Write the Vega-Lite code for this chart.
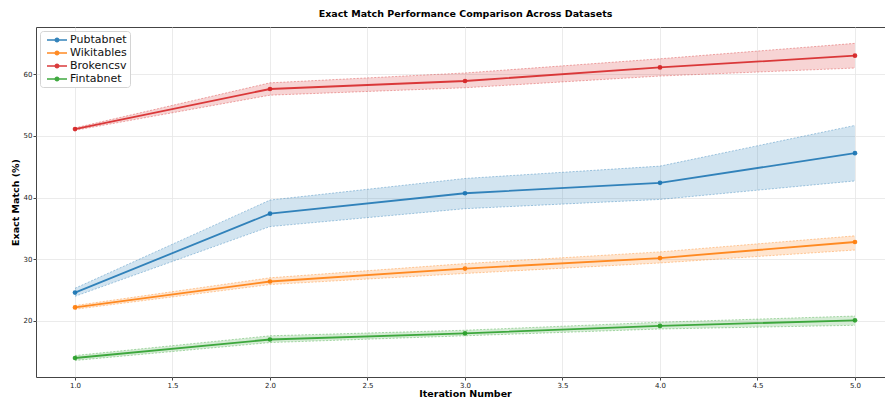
{
  "$schema": "https://vega.github.io/schema/vega-lite/v6.json",
  "autosize": "none",
  "width": 849,
  "height": 350,
  "padding": {"left": 36, "top": 27, "right": 0, "bottom": 26},
  "background": "white",
  "title": {
    "text": "Exact Match Performance Comparison Across Datasets",
    "font": "DejaVu Sans",
    "fontSize": 9.5,
    "fontWeight": "bold",
    "color": "#000",
    "anchor": "middle",
    "dx": 5,
    "offset": 9
  },
  "config": {
    "view": {"stroke": "#444", "strokeWidth": 1},
    "axis": {
      "domain": false,
      "grid": true,
      "gridColor": "#e6e6e6",
      "gridWidth": 0.8,
      "tickColor": "#444",
      "tickSize": 3,
      "labelFont": "DejaVu Sans",
      "labelFontSize": 7,
      "labelColor": "#222",
      "titleFont": "DejaVu Sans",
      "titleFontSize": 9.5,
      "titleFontWeight": "bold",
      "titleColor": "#000"
    }
  },
  "data": {
    "values": [
      {"dataset": "Pubtabnet", "iteration": 1, "mean": 24.6, "lower": 24.0, "upper": 25.3},
      {"dataset": "Pubtabnet", "iteration": 2, "mean": 37.4, "lower": 35.3, "upper": 39.6},
      {"dataset": "Pubtabnet", "iteration": 3, "mean": 40.7, "lower": 38.2, "upper": 43.1},
      {"dataset": "Pubtabnet", "iteration": 4, "mean": 42.4, "lower": 39.7, "upper": 45.1},
      {"dataset": "Pubtabnet", "iteration": 5, "mean": 47.2, "lower": 42.7, "upper": 51.7},
      {"dataset": "Wikitables", "iteration": 1, "mean": 22.2, "lower": 21.9, "upper": 22.5},
      {"dataset": "Wikitables", "iteration": 2, "mean": 26.4, "lower": 25.9, "upper": 27.0},
      {"dataset": "Wikitables", "iteration": 3, "mean": 28.5, "lower": 27.7, "upper": 29.3},
      {"dataset": "Wikitables", "iteration": 4, "mean": 30.2, "lower": 29.4, "upper": 31.2},
      {"dataset": "Wikitables", "iteration": 5, "mean": 32.8, "lower": 31.5, "upper": 33.8},
      {"dataset": "Brokencsv", "iteration": 1, "mean": 51.1, "lower": 50.9, "upper": 51.3},
      {"dataset": "Brokencsv", "iteration": 2, "mean": 57.6, "lower": 56.6, "upper": 58.6},
      {"dataset": "Brokencsv", "iteration": 3, "mean": 58.9, "lower": 57.8, "upper": 60.2},
      {"dataset": "Brokencsv", "iteration": 4, "mean": 61.1, "lower": 59.7, "upper": 62.5},
      {"dataset": "Brokencsv", "iteration": 5, "mean": 63.0, "lower": 61.0, "upper": 65.0},
      {"dataset": "Fintabnet", "iteration": 1, "mean": 14.0, "lower": 13.6, "upper": 14.4},
      {"dataset": "Fintabnet", "iteration": 2, "mean": 17.0, "lower": 16.5, "upper": 17.6},
      {"dataset": "Fintabnet", "iteration": 3, "mean": 18.0, "lower": 17.6, "upper": 18.5},
      {"dataset": "Fintabnet", "iteration": 4, "mean": 19.2, "lower": 18.7, "upper": 19.8},
      {"dataset": "Fintabnet", "iteration": 5, "mean": 20.1, "lower": 19.3, "upper": 20.8}
    ]
  },
  "encoding": {
    "x": {
      "field": "iteration",
      "type": "quantitative",
      "scale": {"domain": [0.8, 5.154], "nice": false, "zero": false},
      "axis": {
        "values": [1, 1.5, 2, 2.5, 3, 3.5, 4, 4.5, 5],
        "format": ".1f",
        "title": "Iteration Number",
        "titleX": 429,
        "titleY": 19.5,
        "titleBaseline": "alphabetic",
        "labelPadding": 1
      }
    },
    "color": {
      "field": "dataset",
      "type": "nominal",
      "scale": {
        "domain": ["Pubtabnet", "Wikitables", "Brokencsv", "Fintabnet"],
        "range": ["#1f77b4", "#ff7f0e", "#d62728", "#2ca02c"]
      },
      "legend": {
        "title": null,
        "orient": "top-left",
        "offset": 4,
        "padding": 3,
        "fillColor": "white",
        "strokeColor": "#d4d4d4",
        "cornerRadius": 3,
        "labelFont": "DejaVu Sans",
        "labelFontSize": 11,
        "labelColor": "#111",
        "labelOffset": 7,
        "rowPadding": 2,
        "symbolOffset": 8,
        "symbolType": "M-2,0H2M0.34,0A0.34,0.34,0,1,1,-0.34,0A0.34,0.34,0,1,1,0.34,0Z",
        "symbolSize": 100,
        "symbolStrokeWidth": 1.6,
        "symbolOpacity": 0.9,
        "encode": {
          "symbols": {
            "update": {
              "fill": {"scale": "color", "field": "value"},
              "stroke": {"scale": "color", "field": "value"},
              "opacity": {"value": 0.9}
            }
          }
        }
      }
    }
  },
  "layer": [
    {
      "mark": {"type": "area", "opacity": 0.2},
      "encoding": {
        "y": {
          "field": "lower",
          "type": "quantitative",
          "scale": {"domain": [10.92, 67.65], "nice": false, "zero": false},
          "axis": {
            "values": [20, 30, 40, 50, 60],
            "format": "d",
            "title": "Exact Match (%)",
            "titlePadding": 3,
            "labelPadding": 1
          }
        },
        "y2": {"field": "upper"}
      }
    },
    {
      "mark": {"type": "line", "strokeWidth": 0.7, "strokeDash": [2, 1.5], "opacity": 0.55},
      "encoding": {"y": {"field": "upper", "type": "quantitative"}}
    },
    {
      "mark": {"type": "line", "strokeWidth": 0.7, "strokeDash": [2, 1.5], "opacity": 0.55},
      "encoding": {"y": {"field": "lower", "type": "quantitative"}}
    },
    {
      "mark": {"type": "line", "strokeWidth": 1.8, "opacity": 0.9, "point": {"filled": true, "size": 22, "opacity": 0.95}},
      "encoding": {
        "y": {"field": "mean", "type": "quantitative"}
      }
    }
  ]
}
